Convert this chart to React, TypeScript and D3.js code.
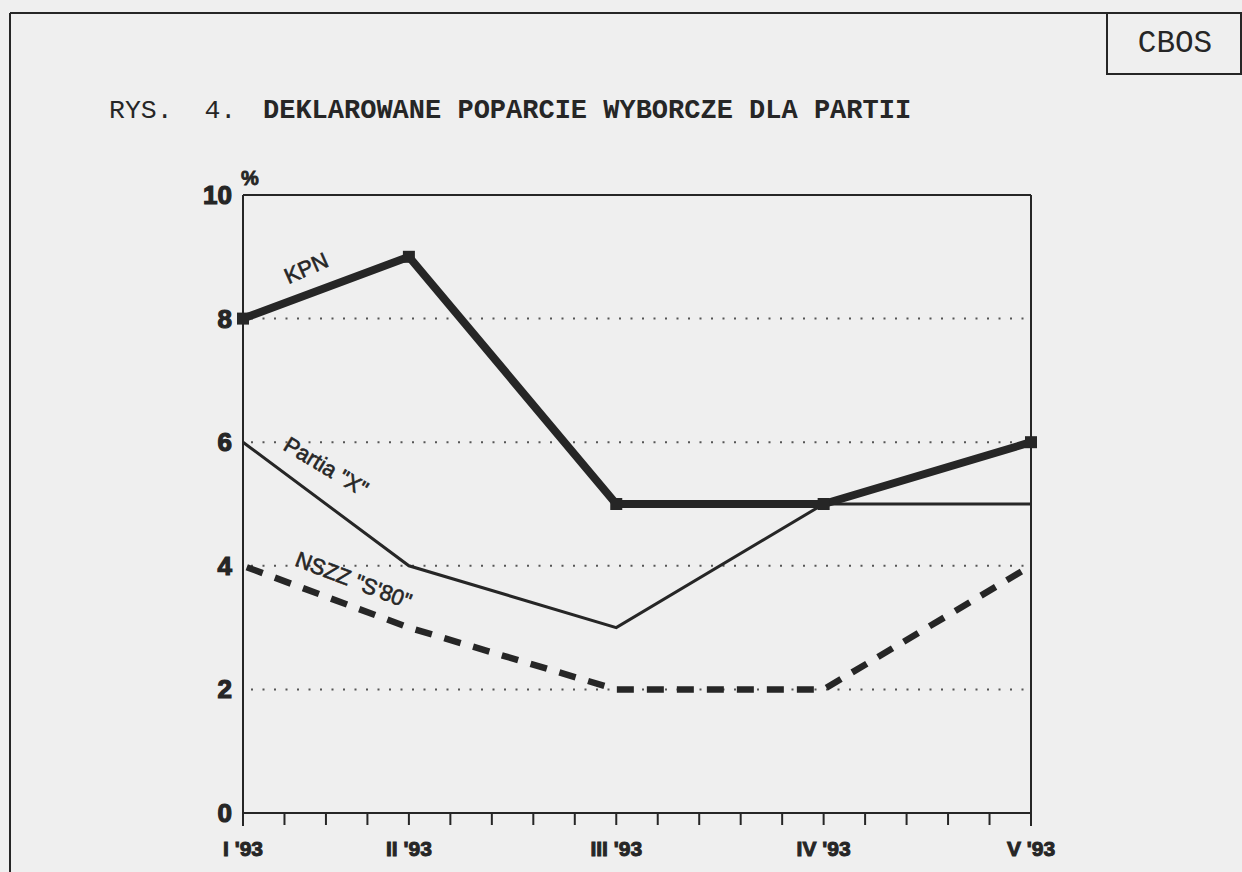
import React from "react";
import * as d3 from "d3";

// ---- data ----
const months = ["I '93", "II '93", "III '93", "IV '93", "V '93"];
// survey positions on the 19-step time axis (minor ticks)
const monthPos = [0, 4, 9, 14, 19];
const kpn = [8, 9, 5, 5, 6];
const partiaX = [6, 4, 3, 5, 5];
const nszz = [4, 3, 2, 2, 4];
const yTicks = [0, 2, 4, 6, 8, 10];
const gridValues = [2, 4, 6, 8];

const W = 1242;
const H = 872;
const ink = "#262626";
const bg = "#efefef";

export default function App() {
  const x = d3.scaleLinear().domain([0, 19]).range([243, 1031]);
  const y = d3.scaleLinear().domain([0, 10]).range([813, 195]);
  const minorTicks = d3.range(0, 20);

  const line = d3
    .line<number>()
    .x((_, i) => x(monthPos[i]))
    .y((d) => y(d));

  const labelFont = "'Liberation Sans', Arial, Helvetica, sans-serif";
  const monoFont = "'Liberation Mono', 'Courier New', monospace";

  return (
    <svg
      width={W}
      height={H}
      style={{ position: "absolute", left: 0, top: 0, background: bg }}
    >
      <rect x={0} y={0} width={W} height={H} fill={bg} />
      {/* outer frame */}
      <line x1={10} y1={13} x2={1241} y2={13} stroke={ink} strokeWidth={2} />
      <line x1={10} y1={13} x2={10} y2={872} stroke={ink} strokeWidth={2} />
      {/* CBOS box */}
      <rect x={1107} y={13} width={134} height={61} fill="none" stroke={ink} strokeWidth={2} />
      <text x={1175} y={52} textAnchor="middle" fontFamily={monoFont} fontSize={31} fill={ink}>
        CBOS
      </text>
      {/* title */}
      <text x={109} y={118} fontFamily={monoFont} fontSize={26.5} fill={ink} style={{ whiteSpace: "pre" }}>
        <tspan>{"RYS.  4.  "}</tspan>
      </text>
      <text x={263} y={118} fontFamily={monoFont} fontSize={27} fontWeight="bold" fill={ink}>
        DEKLAROWANE POPARCIE WYBORCZE DLA PARTII
      </text>

      {/* gridlines */}
      {gridValues.map((v) => (
        <line
          key={v}
          x1={x(0) + 8}
          x2={x(19)}
          y1={y(v)}
          y2={y(v)}
          stroke="#555"
          strokeWidth={2}
          strokeDasharray="2 9.5"
        />
      ))}

      {/* plot frame */}
      <line x1={x(0)} x2={x(19)} y1={y(10)} y2={y(10)} stroke={ink} strokeWidth={2} />
      <line x1={x(0)} x2={x(19)} y1={y(0)} y2={y(0)} stroke={ink} strokeWidth={2} />
      <line x1={x(0)} x2={x(0)} y1={y(10)} y2={y(0) + 13} stroke={ink} strokeWidth={2} />
      <line x1={x(19)} x2={x(19)} y1={y(10)} y2={y(0) + 13} stroke={ink} strokeWidth={2} />
      {minorTicks.map((t) => (
        <line key={t} x1={x(t)} x2={x(t)} y1={y(0)} y2={y(0) + 12} stroke={ink} strokeWidth={2} />
      ))}

      {/* y tick labels */}
      {yTicks.map((v) => (
        <text
          key={v}
          x={x(0) - 11}
          y={y(v) + 9}
          textAnchor="end"
          fontFamily={labelFont}
          fontWeight={900}
          fontSize={26}
          fill={ink}
          stroke={ink}
          strokeWidth={1.2}
        >
          {v}
        </text>
      ))}
      <text
        x={x(0) + 7}
        y={y(10) - 10}
        textAnchor="middle"
        fontFamily={labelFont}
        fontWeight={900}
        fontSize={20}
        fill={ink}
        stroke={ink}
        strokeWidth={0.8}
      >
        %
      </text>

      {/* x tick labels */}
      {months.map((m, i) => (
        <text
          key={m}
          x={x(monthPos[i])}
          y={856}
          textAnchor="middle"
          fontFamily={labelFont}
          fontWeight={900}
          fontSize={21}
          fill={ink}
          stroke={ink}
          strokeWidth={1}
        >
          {m}
        </text>
      ))}

      {/* series */}
      <path d={line(partiaX) || ""} fill="none" stroke={ink} strokeWidth={3} strokeLinejoin="miter" />
      <path
        d={line(nszz) || ""}
        fill="none"
        stroke={ink}
        strokeWidth={6.5}
        strokeDasharray="17 13"
        strokeDashoffset={-4}
      />
      <path d={line(kpn) || ""} fill="none" stroke={ink} strokeWidth={8} strokeLinejoin="miter" />
      {kpn.map((v, i) => (
        <rect key={i} x={x(monthPos[i]) - 6} y={y(v) - 6} width={12} height={12} fill={ink} />
      ))}

      {/* series labels */}
      <text
        transform={`translate(${x(1.54)},${y(8.79)}) rotate(-24)`}
        textAnchor="middle"
        dominantBaseline="middle"
        fontFamily={labelFont}
        fontSize={22}
        fill={ink}
        stroke={ink}
        strokeWidth={0.6}
      >
        KPN
      </text>
      <text
        transform={`translate(${x(1.98)},${y(5.58)}) rotate(31)`}
        textAnchor="middle"
        dominantBaseline="middle"
        fontFamily={labelFont}
        fontSize={22}
        fill={ink}
        stroke={ink}
        strokeWidth={0.6}
      >
        Partia "X"
      </text>
      <text
        transform={`translate(${x(2.65)},${y(3.74)}) rotate(21)`}
        textAnchor="middle"
        dominantBaseline="middle"
        fontFamily={labelFont}
        fontSize={22}
        fill={ink}
        stroke={ink}
        strokeWidth={0.6}
      >
        NSZZ "S'80"
      </text>
    </svg>
  );
}
